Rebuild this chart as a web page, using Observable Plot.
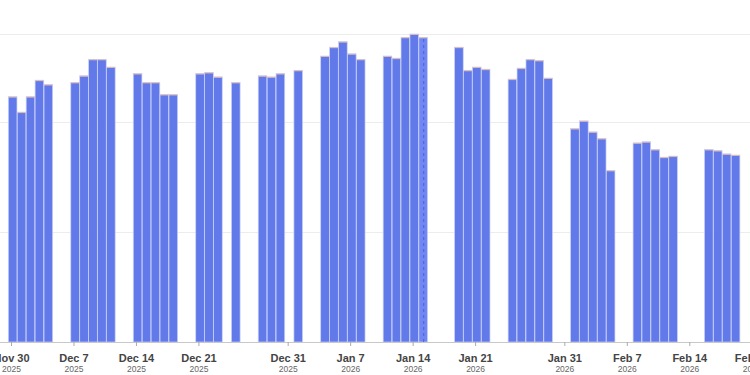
<!DOCTYPE html>
<html><head><meta charset="utf-8">
<script src="https://cdn.jsdelivr.net/npm/d3@7"></script>
<script src="https://cdn.jsdelivr.net/npm/@observablehq/plot@0.6"></script>
<style>body{margin:0;background:#fff;overflow:hidden;}</style>
</head><body><div id="chart"></div>
<script>
// Trading days (Mon–Fri, market holidays excluded)
const tradingDays = [
  "2025-12-01","2025-12-02","2025-12-03","2025-12-04","2025-12-05",
  "2025-12-08","2025-12-09","2025-12-10","2025-12-11","2025-12-12",
  "2025-12-15","2025-12-16","2025-12-17","2025-12-18","2025-12-19",
  "2025-12-22","2025-12-23","2025-12-24","2025-12-26",
  "2025-12-29","2025-12-30","2025-12-31","2026-01-02",
  "2026-01-05","2026-01-06","2026-01-07","2026-01-08","2026-01-09",
  "2026-01-12","2026-01-13","2026-01-14","2026-01-15","2026-01-16",
  "2026-01-20","2026-01-21","2026-01-22","2026-01-23",
  "2026-01-26","2026-01-27","2026-01-28","2026-01-29","2026-01-30",
  "2026-02-02","2026-02-03","2026-02-04","2026-02-05","2026-02-06",
  "2026-02-09","2026-02-10","2026-02-11","2026-02-12","2026-02-13",
  "2026-02-17","2026-02-18","2026-02-19","2026-02-20"
];
const values = [
  223, 209, 223, 238, 234,
  236, 242, 257, 257, 250,
  244, 236, 236, 225, 225,
  244, 245, 241, 236,
  242, 241, 244, 247,
  260, 268, 273, 262, 257,
  260, 258, 277, 280, 277,
  268, 247, 250, 248,
  239, 249, 257, 256, 240,
  194, 201, 191, 185, 156,
  181, 182, 175, 168, 169,
  175, 174, 171, 170
];
const tickDays = ["2025-11-30","2025-12-07","2025-12-14","2025-12-21","2025-12-31","2026-01-07",
  "2026-01-14","2026-01-21","2026-01-31","2026-02-07","2026-02-14","2026-02-21"];
const tickDayLabels = ["Nov 30","Dec 7","Dec 14","Dec 21","Dec 31","Jan 7",
  "Jan 14","Jan 21","Jan 31","Feb 7","Feb 14","Feb 21"];
const tickYearLabels = ["2025","2025","2025","2025","2025","2026",
  "2026","2026","2026","2026","2026","2026"];
const gridValues = [100, 200, 280];
const hoverDay = "2026-01-16";

const DAY = 864e5;
const parse = s => new Date(s + "T00:00:00Z");
const data = tradingDays.map((d, i) => ({day: d, date: parse(d), value: values[i]}));
const ticks = tickDays.map((d, i) => ({date: parse(d), label: tickDayLabels[i], year: tickYearLabels[i]}));
const x1 = d => new Date(+d.date - 1.30 * DAY);
const x2 = d => new Date(+d.date - 0.33 * DAY);
const xc = d => new Date(+d.date - 0.815 * DAY);
const domStart = new Date(+parse("2025-11-30") - 1.2325 * DAY);
const domEnd = new Date(+domStart + (750 / 8.925) * DAY);

const chart = Plot.plot({
  width: 750, height: 375,
  marginLeft: 0, marginRight: 0, marginTop: 34, marginBottom: 33,
  style: {fontFamily: "Liberation Sans, Arial, sans-serif", background: "#fff"},
  x: {type: "utc", domain: [domStart, domEnd]},
  y: {domain: [0, 280]},
  marks: [
    Plot.ruleY(gridValues, {stroke: "#ececec", strokeWidth: 1}),
    Plot.rect(data, {x1, x2, y1: 0, y2: "value",
      fill: d => d.day === hoverDay ? "#6f86f4" : "#6279ea",
      stroke: "#c9d2f8", strokeWidth: 0.7}),
    Plot.ruleY(data, {y: "value", x1, x2, stroke: "#f3c3a2", strokeWidth: 0.8}),
    Plot.ruleX(data.filter(d => d.day === hoverDay), {x: xc, y1: 0, y2: "value",
      stroke: "#4e63d0", strokeWidth: 1, strokeDasharray: "3,3"}),
    Plot.ruleY([0], {stroke: "#c8c8c8", strokeWidth: 1}),
    Plot.axisX({ticks: tickDays.map(parse), tickSize: 4, tickFormat: () => "", stroke: "#aaa"}),
    Plot.axisY({ticks: [], label: null, tickSize: 0}),
    Plot.text(ticks, {x: "date", text: "label", frameAnchor: "bottom", dy: 16, lineAnchor: "middle",
      fontSize: 11, fontWeight: "bold", fill: "#444"}),
    Plot.text(ticks, {x: "date", text: "year", frameAnchor: "bottom", dy: 27, lineAnchor: "middle",
      fontSize: 8.5, fill: "#666"})
  ]
});
document.getElementById("chart").appendChild(chart);
</script>
</body></html>
